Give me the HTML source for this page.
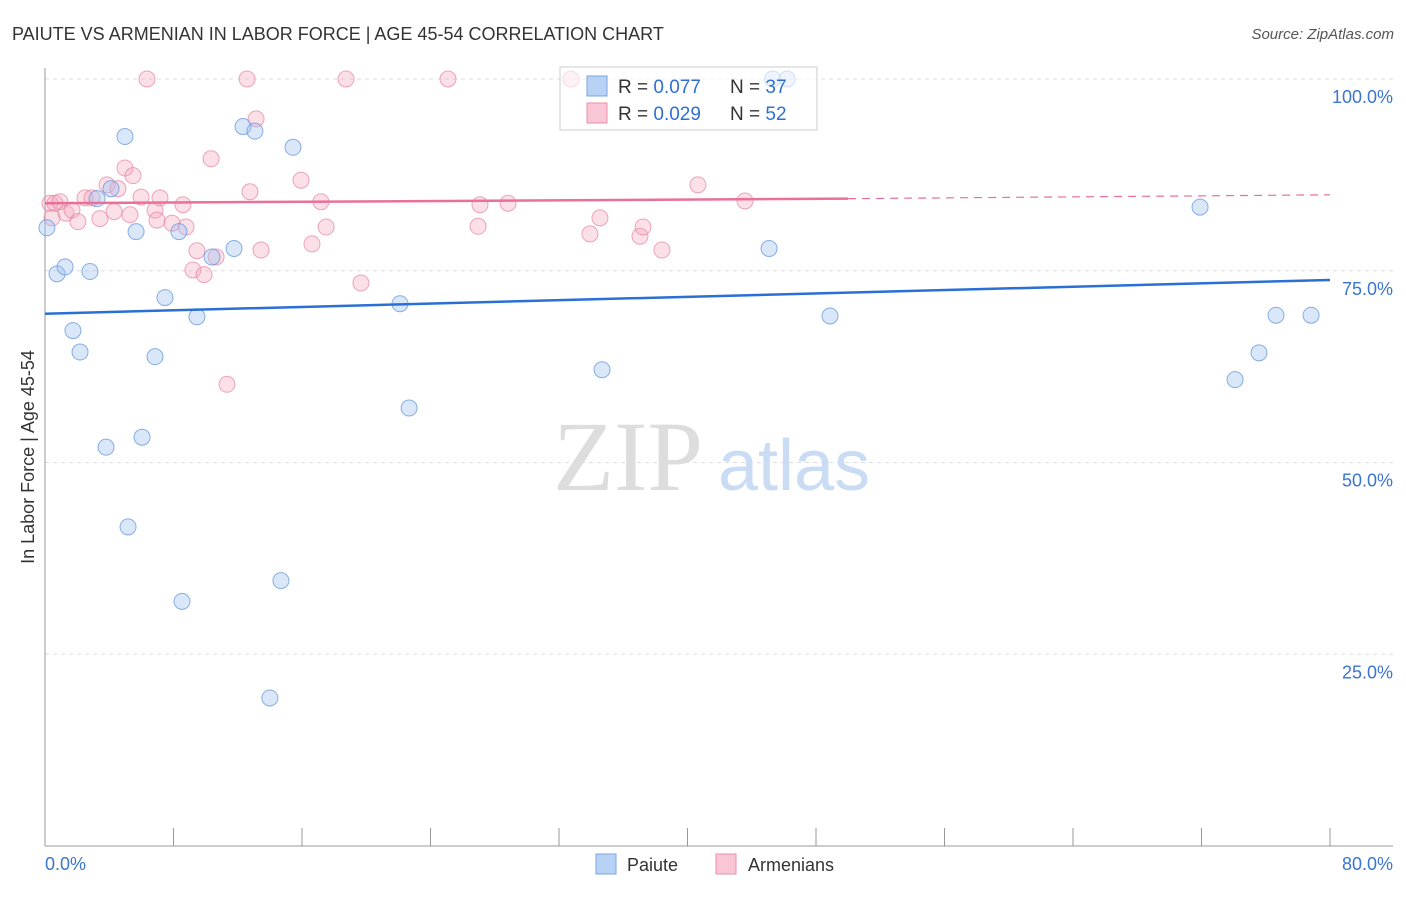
<!DOCTYPE html>
<html><head><meta charset="utf-8"><style>
body{margin:0;background:#fff;font-family:"Liberation Sans",sans-serif;}
</style></head><body>
<svg width="1406" height="892" viewBox="0 0 1406 892" xmlns="http://www.w3.org/2000/svg" font-family="Liberation Sans, sans-serif">
<text x="12" y="40" font-size="18" fill="#333">PAIUTE VS ARMENIAN IN LABOR FORCE | AGE 45-54 CORRELATION CHART</text>
<text x="1394" y="39" font-size="15" fill="#555" font-style="italic" text-anchor="end">Source: ZipAtlas.com</text>
<g id="grid"></g>
<g id="axes"></g>
<text x="553" y="490" font-size="100" fill="#ddd" style="font-family:'Liberation Serif',serif">ZIP</text>
<text x="718" y="490" font-size="72" fill="#c9dcf3">atlas</text>
<text transform="translate(34,457) rotate(-90)" font-size="18" fill="#333" text-anchor="middle">In Labor Force | Age 45-54</text>
<g id="pts"></g>
<g id="trends"></g>
<g>
<rect x="560" y="67" width="257" height="63" fill="rgba(255,255,255,0.6)" stroke="#ccc"/>
<rect x="587" y="76" width="20" height="20" fill="#b8d2f5" stroke="#7aa6e0"/>
<rect x="587" y="103" width="20" height="20" fill="#f8c6d4" stroke="#eb8fab"/>
<text x="618" y="93" font-size="19" fill="#333">R = <tspan fill="#2f6fd3">0.077</tspan><tspan x="730">N = </tspan><tspan fill="#2f6fd3">37</tspan></text>
<text x="618" y="120" font-size="19" fill="#333">R = <tspan fill="#2f6fd3">0.029</tspan><tspan x="730">N = </tspan><tspan fill="#2f6fd3">52</tspan></text>
</g>
<g>
<rect x="596" y="854" width="20" height="20" fill="#b8d2f5" stroke="#7aa6e0"/>
<text x="627" y="871" font-size="18" fill="#333">Paiute</text>
<rect x="716" y="854" width="20" height="20" fill="#f8c6d4" stroke="#eb8fab"/>
<text x="748" y="871" font-size="18" fill="#333">Armenians</text>
</g>
</svg>
<script>
const paiuteX=[0.12,0.75,1.25,2.8,1.74,2.18,3.24,4.11,4.98,5.67,3.8,6.04,5.17,6.85,7.47,8.53,8.34,9.46,10.4,11.77,12.33,13.07,14.69,14.0,15.44,22.1,22.67,34.68,45.08,48.87,71.91,74.09,75.58,76.64,78.82,45.3,46.2];
const paiuteY=[80.6,74.6,75.5,74.9,67.2,64.4,84.4,85.7,92.5,80.1,52.0,53.3,41.6,63.8,71.5,31.9,80.1,69.0,76.8,77.9,93.8,93.2,34.6,19.3,91.1,70.7,57.1,62.1,77.9,69.1,83.3,60.8,64.3,69.2,69.2,100,100];
const armX=[0.31,0.62,0.93,0.44,1.31,1.68,2.05,2.49,2.93,3.42,3.86,4.3,4.54,4.98,5.29,5.48,5.98,6.35,6.85,6.97,7.16,7.91,8.59,8.78,9.21,9.46,9.9,10.34,10.65,11.33,12.58,12.76,13.14,13.45,15.94,16.62,17.18,17.5,18.74,19.67,25.09,26.96,27.08,28.83,32.75,33.93,34.55,37.04,37.23,38.41,40.65,43.58];
const armY=[83.8,83.8,84.0,81.9,82.5,82.9,81.4,84.5,84.5,81.8,86.2,82.7,85.7,88.4,82.3,87.4,84.6,100,82.9,81.6,84.5,81.2,83.6,80.7,75.1,77.6,74.5,89.6,76.8,60.2,100,85.3,94.8,77.7,86.8,78.5,84.0,80.7,100,73.4,100,80.8,83.6,83.8,100,79.8,81.9,79.5,80.7,77.7,86.2,84.1];
const paiuteTrend=[69.4,73.8];
const armTrend=[83.8,84.4,84.9];
const yTicks=[100,75,50,25];
const xTickLabels=["0.0%","80.0%"];
const NS="http://www.w3.org/2000/svg";
const sx=v=>45+v/80*1285, sy=v=>846-v/100*767;
function mk(t,a,p){const e=document.createElementNS(NS,t);for(const k in a)e.setAttribute(k,a[k]);p.appendChild(e);return e;}
const grid=document.getElementById('grid'),axes=document.getElementById('axes');
yTicks.forEach(v=>{
 const l=mk('line',{x1:45,x2:1393,y1:sy(v),y2:sy(v),stroke:'#ddd','stroke-dasharray':'4,4'},grid);
 
 
 const t=mk('text',{x:1393,y:sy(v)+24,'font-size':18,fill:'#3a75d0','text-anchor':'end'},grid);
 t.textContent=v.toFixed(1)+'%';
 
 
});
let a=mk('line',{x1:45,x2:45,y1:68,y2:846,stroke:'#999'},axes);


a=mk('line',{x1:45,x2:1393,y1:846,y2:846,stroke:'#999'},axes);


for(let i=0;i<=10;i++){const t=mk('line',{x1:sx(i*8),x2:sx(i*8),y1:828,y2:846,stroke:'#999'},axes);
 
 }
[[0,'start',45],[80,'end',1393]].forEach((d,i)=>{const t=mk('text',{x:d[2],y:870,'font-size':18,fill:'#3a75d0','text-anchor':d[1]},axes);t.textContent=xTickLabels[i];
 
 });
const pts=document.getElementById('pts');
armX.forEach((x,i)=>{const c=mk('circle',{cx:sx(x),cy:sy(armY[i]),r:8,fill:'rgba(243,165,190,0.35)',stroke:'rgba(230,130,160,0.7)'},pts);
 
 });
paiuteX.forEach((x,i)=>{const c=mk('circle',{cx:sx(x),cy:sy(paiuteY[i]),r:8,fill:'rgba(160,195,240,0.4)',stroke:'rgba(100,150,220,0.75)'},pts);
 
 });
const tr=document.getElementById('trends');
let l=mk('line',{x1:sx(0),y1:sy(paiuteTrend[0]),x2:sx(80),y2:sy(paiuteTrend[1]),stroke:'#2a6fd6','stroke-width':2.5},tr);


l=mk('line',{x1:sx(0),y1:sy(armTrend[0]),x2:sx(50),y2:sy(armTrend[1]),stroke:'#e8709a','stroke-width':2.5},tr);


l=mk('line',{x1:sx(50),y1:sy(armTrend[1]),x2:sx(80),y2:sy(armTrend[2]),stroke:'#e8709a','stroke-width':1.2,'stroke-dasharray':'8,6'},tr);


</script>
</body></html>
